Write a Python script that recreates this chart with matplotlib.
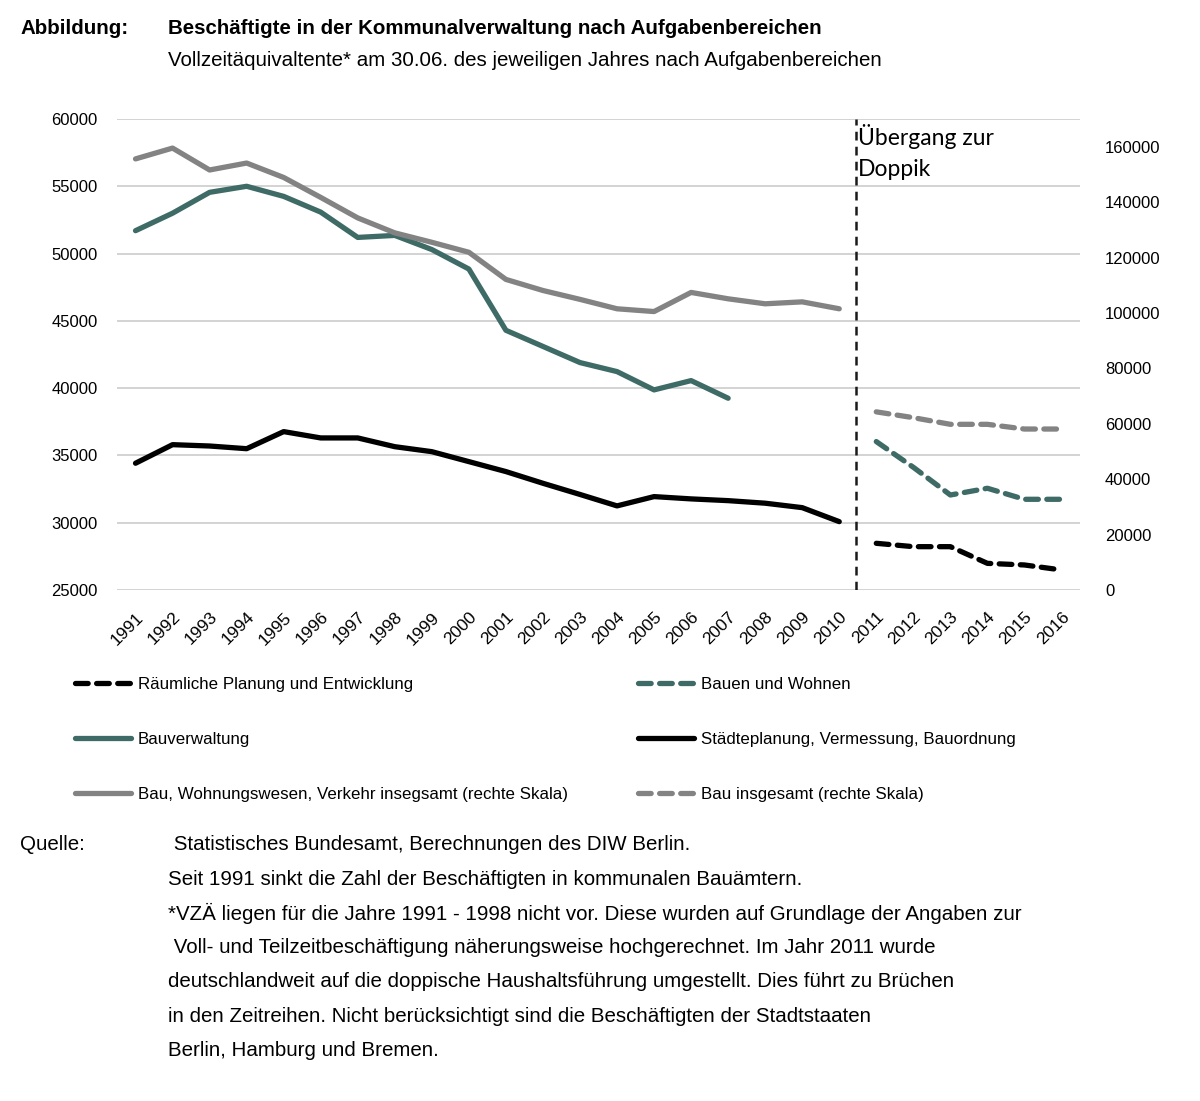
import numpy as np
import matplotlib
matplotlib.use("Agg")
import matplotlib.pyplot as plt

plt.rcParams['font.family'] = ['Liberation Sans', 'DejaVu Sans']

# Jahre (Kategorien)
years = [str(y) for y in range(1991, 2017)]
years_old = list(range(1991, 2011))
years_new = list(range(2011, 2017))

# linke Skala
bauverwaltung = [51700, 53000, 54550, 55000, 54250, 53080, 51200, 51350, 50300, 48850,
                 44300, 43100, 41900, 41230, 39870, 40560, 39250]
staedteplanung = [34420, 35800, 35700, 35500, 36770, 36300, 36300, 35650, 35280, 34540,
                  33800, 32930, 32100, 31250, 31940, 31770, 31640, 31450, 31120, 30080]
bauen_wohnen = [36030, 34120, 32060, 32560, 31740, 31740]
raeuml_planung = [28470, 28220, 28220, 26980, 26860, 26490]

# rechte Skala
bau_wohn_verkehr = [155600, 159500, 151600, 154100, 148900, 141700, 134300, 128900, 125500, 121900,
                    112100, 108100, 104900, 101500, 100500, 107400, 105100, 103300, 104000, 101500]
bau_insgesamt = [64300, 62200, 59800, 59800, 58100, 58100]

teal = '#3e6b66'
grey = '#838383'
lw = 3.8

fig = plt.figure(figsize=(12, 11.01), dpi=100)
ax = fig.add_axes([117/1200, 1-590/1101, (1080-117)/1200, (590-119)/1101])
ax2 = ax.twinx()

idx = {y: i for i, y in enumerate(range(1991, 2017))}
x_old = [idx[y] for y in years_old]
x_new = [idx[y] for y in years_new]

dash = dict(linestyle=(0, (2.4, 1.6)), dash_capstyle='round')

l_rp, = ax.plot(x_new, raeuml_planung, color='black', lw=lw, **dash,
                label='Räumliche Planung und Entwicklung')
l_bv, = ax.plot(x_old[:len(bauverwaltung)], bauverwaltung, color=teal, lw=lw,
                solid_capstyle='round', label='Bauverwaltung')
l_bw, = ax.plot(x_new, bauen_wohnen, color=teal, lw=lw, **dash, label='Bauen und Wohnen')
l_sp, = ax.plot(x_old, staedteplanung, color='black', lw=lw, solid_capstyle='round',
                label='Städteplanung, Vermessung, Bauordnung')
l_bwv, = ax2.plot(x_old, bau_wohn_verkehr, color=grey, lw=lw, solid_capstyle='round',
                  label='Bau, Wohnungswesen, Verkehr insegsamt (rechte Skala)')
l_bi, = ax2.plot(x_new, bau_insgesamt, color=grey, lw=lw, **dash,
                 label='Bau insgesamt (rechte Skala)')

ax.set_xlim(-0.5, len(years) - 0.5)
ax.set_ylim(25000, 60000)
ax.set_yticks(range(25000, 60001, 5000))
ax2.set_ylim(0, 170000)
ax2.set_yticks(range(0, 160001, 20000))
ax.grid(axis='y', color='#d0d0d0', lw=1.3)
ax.set_axisbelow(True)
for a in (ax, ax2):
    for s in a.spines.values():
        s.set_visible(False)
ax.tick_params(axis='y', length=0, pad=14, labelsize=12)
ax2.tick_params(axis='y', length=0, pad=18, labelsize=12)
ax.set_xticks(range(len(years)))
ax.set_xticklabels(years, rotation=45, ha='right', va='top', rotation_mode='anchor', fontsize=12.5)
ax.tick_params(axis='x', length=0, pad=14)

# Übergang zur Doppik
ax.axvline(19.45, color='#1a1a1a', lw=1.8, linestyle=(0, (3.5, 2.5)))
ax.text(19.5, 59650, 'Übergang zur\nDoppik', fontsize=16.5, family='Lato', va='top', ha='left',
        linespacing=1.6)

# Titel
fig.text(20/1200, 1-28/1101, 'Abbildung:', fontsize=14.8, weight='bold', va='center')
fig.text(168/1200, 1-28/1101, 'Beschäftigte in der Kommunalverwaltung nach Aufgabenbereichen',
         fontsize=14.8, weight='bold', va='center')
fig.text(168/1200, 1-61/1101,
         'Vollzeitäquivaltente* am 30.06. des jeweiligen Jahres nach Aufgabenbereichen',
         fontsize=14.8, va='center')

handles = [l_rp, l_bv, l_bwv, l_bw, l_sp, l_bi]
fig.legend(handles=handles, labels=[h.get_label() for h in handles], ncol=2,
           loc='upper left', bbox_to_anchor=(75/1200, 1-677/1101), frameon=False,
           fontsize=12.2, handlelength=3.3, handletextpad=0.4, labelspacing=2.35,
           columnspacing=4.15, borderpad=0, borderaxespad=0)

# Quelle
fig.text(20/1200, 1-845/1101, 'Quelle:', fontsize=14.8, va='center')
notes = [' Statistisches Bundesamt, Berechnungen des DIW Berlin.',
         'Seit 1991 sinkt die Zahl der Beschäftigten in kommunalen Bauämtern.',
         '*VZÄ liegen für die Jahre 1991 - 1998 nicht vor. Diese wurden auf Grundlage der Angaben zur',
         ' Voll- und Teilzeitbeschäftigung näherungsweise hochgerechnet. Im Jahr 2011 wurde',
         'deutschlandweit auf die doppische Haushaltsführung umgestellt. Dies führt zu Brüchen',
         'in den Zeitreihen. Nicht berücksichtigt sind die Beschäftigten der Stadtstaaten',
         'Berlin, Hamburg und Bremen.']
for i, line in enumerate(notes):
    fig.text(168/1200, 1-(845 + i*34.2)/1101, line, fontsize=14.8, va='center')

fig.savefig('out.png', dpi=100)
